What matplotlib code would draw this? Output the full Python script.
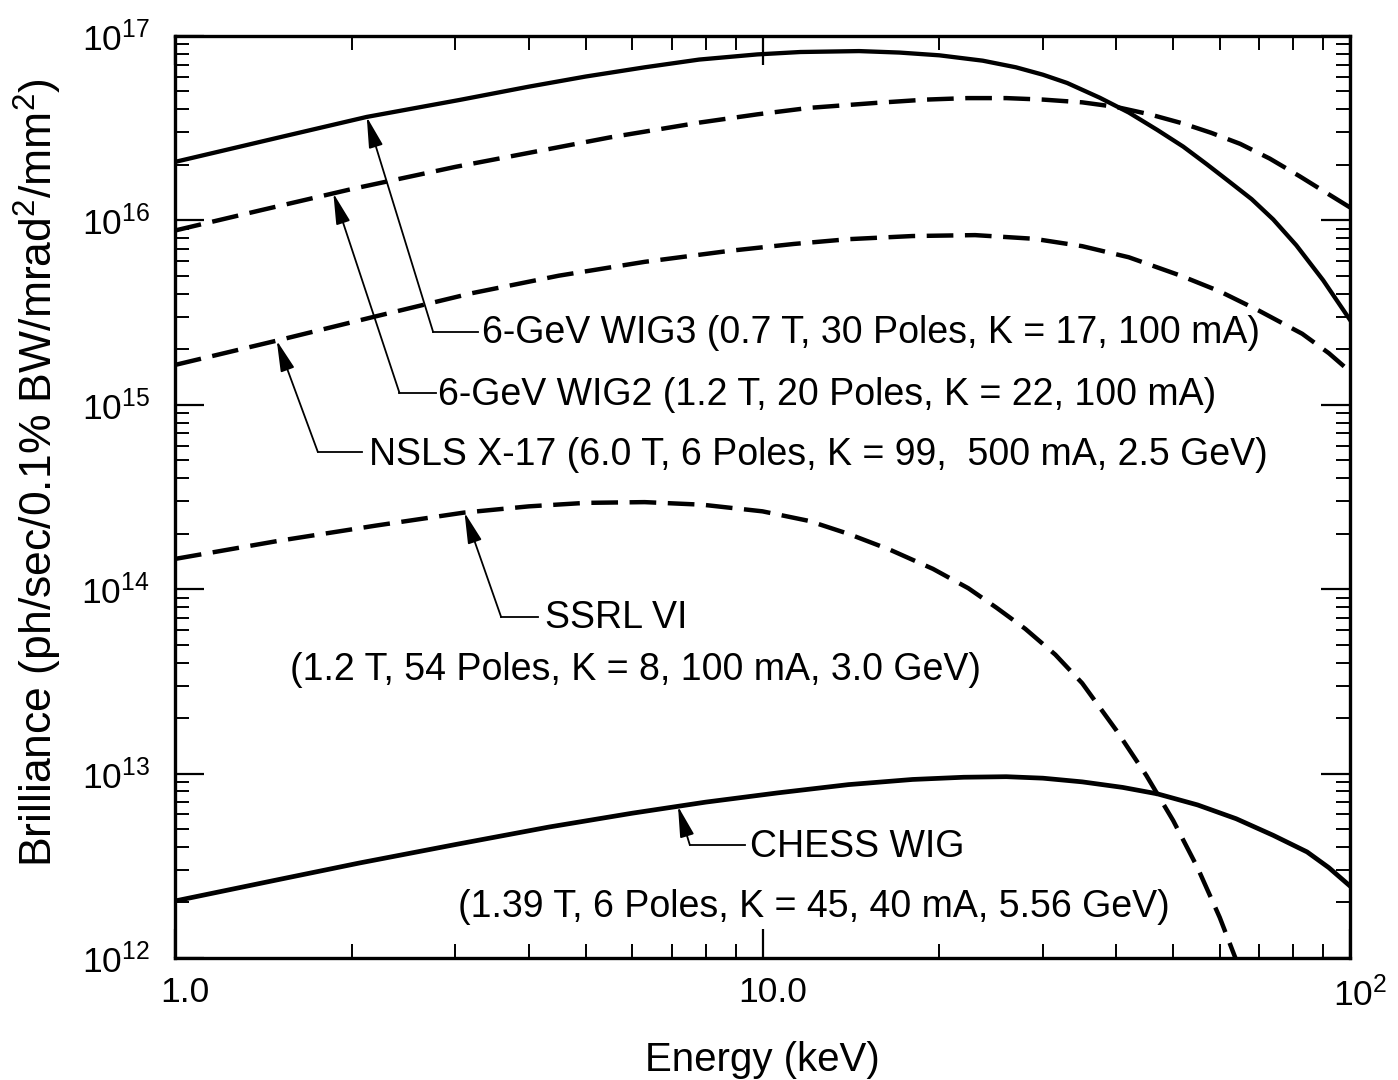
import numpy as np
import matplotlib
matplotlib.use('Agg')
import matplotlib.pyplot as plt
import matplotlib.transforms as mtransforms
from matplotlib.ticker import LogLocator, NullFormatter

plt.rcParams['font.family'] = ['Liberation Sans', 'DejaVu Sans']
plt.rcParams['mathtext.fontset'] = 'custom'
plt.rcParams['mathtext.rm'] = 'Liberation Sans'
plt.rcParams['mathtext.it'] = 'Liberation Sans:italic'
plt.rcParams['mathtext.bf'] = 'Liberation Sans:bold'

## datos: energia en keV, log10 de la brillancia
wig3_e = [1.0, 1.5, 2.12, 3.05, 4.0, 5.0, 6.3, 7.8, 9.8, 11.6, 14.6, 17.1, 20.0, 23.7, 27.0, 30.0,
          33.0, 37.5, 42.0, 47.0, 52.0, 57.0, 62.0, 68.0, 74.0, 81.0, 90.0, 100.0]
wig3_log = [16.317, 16.449, 16.561, 16.653, 16.725, 16.78, 16.83, 16.872, 16.90, 16.913, 16.918, 16.91,
            16.895, 16.866, 16.83, 16.79, 16.745, 16.665, 16.585, 16.49, 16.40, 16.305, 16.215, 16.115,
            16.005, 15.865, 15.675, 15.46]

wig2_e = [1.0, 1.4, 2.0, 3.0, 4.3, 5.5, 7.8, 9.8, 12.0, 15.6, 19.0, 22.3, 26.0, 30.0, 35.0, 40.0,
          45.6, 52.0, 58.0, 65.0, 73.0, 82.0, 90.0, 100.0]
wig2_log = [15.945, 16.055, 16.17, 16.29, 16.385, 16.45, 16.53, 16.575, 16.61, 16.637, 16.655, 16.663,
            16.663, 16.655, 16.64, 16.615, 16.575, 16.525, 16.475, 16.415, 16.335, 16.24, 16.16, 16.07]

nsls_e = [1.0, 1.5, 2.2, 3.2, 4.5, 6.3, 8.8, 11.3, 14.0, 18.0, 23.0, 29.0, 35.0, 42.0, 51.5, 60.0,
          70.0, 82.9, 92.0, 100.0]
nsls_log = [15.216, 15.35, 15.48, 15.605, 15.70, 15.775, 15.835, 15.872, 15.898, 15.915, 15.92, 15.90,
            15.86, 15.80, 15.70, 15.615, 15.51, 15.385, 15.28, 15.18]

ssrl_e = [1.0, 1.5, 2.2, 3.1, 4.0, 5.0, 6.3, 7.9, 10.0, 12.0, 14.0, 16.5, 19.5, 22.4, 25.0, 28.0,
          31.5, 35.0, 40.0, 45.0, 50.0, 55.0, 60.0, 63.8, 67.0]
ssrl_log = [14.164, 14.262, 14.345, 14.415, 14.449, 14.468, 14.472, 14.458, 14.422, 14.37, 14.30, 14.213,
            14.11, 14.005, 13.90, 13.785, 13.645, 13.49, 13.235, 12.99, 12.745, 12.49, 12.22, 12.0, 11.78]

chess_e = [1.0, 1.5, 2.06, 3.0, 4.33, 6.0, 8.0, 10.6, 14.0, 18.0, 22.0, 26.0, 30.0, 35.0, 41.0, 47.0,
           55.0, 64.0, 74.0, 84.5, 92.0, 100.0]
chess_log = [12.309, 12.425, 12.515, 12.615, 12.71, 12.785, 12.845, 12.895, 12.94, 12.968, 12.98, 12.983,
             12.975, 12.955, 12.925, 12.89, 12.83, 12.755, 12.665, 12.575, 12.49, 12.39]

x_ticks = [1.0, 10.0, 100.0]
x_ticklabels = ['1.0', '10.0', '$10^2$']
y_ticks = [1e12, 1e13, 1e14, 1e15, 1e16, 1e17]
y_ticklabels = ['$10^{12}$', '$10^{13}$', '$10^{14}$', '$10^{15}$', '$10^{16}$', '$10^{17}$']

wig3_b = 10 ** np.array(wig3_log)
wig2_b = 10 ** np.array(wig2_log)
nsls_b = 10 ** np.array(nsls_log)
ssrl_b = 10 ** np.array(ssrl_log)
chess_b = 10 ** np.array(chess_log)

dash = (0, (6, 2.6))

fig = plt.figure(figsize=(13.98, 10.8), dpi=100)
ax = fig.add_axes([0.1252, 0.113, 0.8405, 0.8537])

ax.plot(wig3_e, wig3_b, '-', color='k', lw=3.1)
ax.plot(wig2_e, wig2_b, color='k', lw=3.2, ls=dash)
ax.plot(nsls_e, nsls_b, color='k', lw=3.2, ls=dash)
ax.plot(ssrl_e, ssrl_b, color='k', lw=3.2, ls=dash)
ax.plot(chess_e, chess_b, '-', color='k', lw=3.4)


def on_curve(e, xs, ys):
    return 10 ** np.interp(np.log10(e), np.log10(xs), np.log10(ys))


## flechas: punta sobre la curva, codo, fin del tramo horizontal, texto
labels = [
    (2.12, wig3_e, wig3_b, 2.75, 2.48e15, 3.28, 3.33, 2.45e15,
     '6-GeV WIG3 (0.7 T, 30 Poles, K = 17, 100 mA)'),
    (1.86, wig2_e, wig2_b, 2.41, 1.16e15, 2.78, 2.80, 1.13e15,
     '6-GeV WIG2 (1.2 T, 20 Poles, K = 22, 100 mA)'),
    (1.49, nsls_e, nsls_b, 1.75, 5.55e14, 2.08, 2.14, 5.35e14,
     'NSLS X-17 (6.0 T, 6 Poles, K = 99,  500 mA, 2.5 GeV)'),
    (3.11, ssrl_e, ssrl_b, 3.59, 7.06e13, 4.15, 4.26, 6.98e13, 'SSRL VI'),
    (7.18, chess_e, chess_b, 7.52, 4.10e12, 9.34, 9.52, 4.0e12, 'CHESS WIG'),
]
for tip_e, xs, ys, ce, cb, he, te, tb, txt in labels:
    ax.annotate('', xy=(tip_e, on_curve(tip_e, xs, ys)), xytext=(ce, cb),
                arrowprops=dict(arrowstyle='-|>,head_length=0.95,head_width=0.22',
                                mutation_scale=20, lw=1.3, color='k',
                                shrinkA=0, shrinkB=0))
    ax.plot([ce, he], [cb, cb], color='k', lw=1.3)
    ax.text(te, tb, txt, fontsize=27, ha='left', va='center')

ax.text(1.57, 3.65e13, '(1.2 T, 54 Poles, K = 8, 100 mA, 3.0 GeV)', fontsize=27, ha='left', va='center')
ax.text(3.03, 1.89e12, '(1.39 T, 6 Poles, K = 45, 40 mA, 5.56 GeV)', fontsize=27, ha='left', va='center')

ax.set_xscale('log')
ax.set_yscale('log')
ax.set_xlim(1, 100)
ax.set_ylim(1e12, 1e17)

ax.set_xticks(x_ticks)
ax.set_xticklabels(x_ticklabels)
ax.set_yticks(y_ticks)
ax.set_yticklabels(y_ticklabels)
ax.xaxis.set_minor_locator(LogLocator(base=10, subs=np.arange(2, 10)))
ax.yaxis.set_minor_locator(LogLocator(base=10, subs=np.arange(2, 10)))
ax.xaxis.set_minor_formatter(NullFormatter())
ax.yaxis.set_minor_formatter(NullFormatter())

ax.tick_params(which='both', direction='in', top=True, right=True)
ax.tick_params(which='major', length=21, width=1.6)
ax.tick_params(which='minor', length=10, width=1.4)
ax.tick_params(axis='x', which='major', pad=13, labelsize=25.5)
ax.tick_params(axis='y', which='major', pad=18, labelsize=25.5)
for s in ax.spines.values():
    s.set_linewidth(2.4)

# en el original las etiquetas del eje x estan algo corridas a la derecha
shift = mtransforms.ScaledTranslation(0.1, 0, fig.dpi_scale_trans)
for lab in ax.get_xticklabels():
    lab.set_transform(lab.get_transform() + shift)

ax.set_xlabel('Energy (keV)', fontsize=29)
ax.xaxis.set_label_coords(0.5, -0.09)
ax.set_ylabel('Brilliance (ph/sec/0.1% BW/mrad$^2$/mm$^2$)', fontsize=32)
ax.yaxis.set_label_coords(-0.0945, 0.526)

fig.savefig('out.png', dpi=100)
